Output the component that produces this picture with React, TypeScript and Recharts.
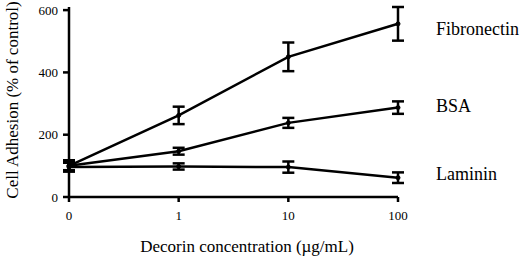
import React from 'react';
import { LineChart, Line, XAxis, YAxis, ErrorBar, LabelList, Label } from 'recharts';

const levels = ['0', '1', '10', '100'];
const fibronectin = [100, 262, 450, 556];
const fibronectinErr = [18, 28, 46, 54];
const bsa = [100, 147, 238, 287];
const bsaErr = [14, 11, 16, 20];
const laminin = [96, 98, 96, 62];
const lamininErr = [14, 10, 18, 17];

const FONT = '"Liberation Serif", "Times New Roman", serif';
const INK = '#000';

const data = levels.map((lvl, i) => ({
  x: i,
  fibronectin: fibronectin[i],
  fibronectinErr: fibronectinErr[i],
  bsa: bsa[i],
  bsaErr: bsaErr[i],
  laminin: laminin[i],
  lamininErr: lamininErr[i],
}));

const endLabel = (name: string, dy: number) => (props: any) => {
  const { x, y, index } = props;
  if (index !== levels.length - 1) return null;
  return (
    <text x={x + 38} y={y + dy} fontFamily={FONT} fontSize={18} fill={INK} dominantBaseline="middle">
      {name}
    </text>
  );
};

const dot = { r: 2, fill: INK, stroke: INK, strokeWidth: 1 };

export default function App() {
  return (
    <div style={{ position: 'absolute', left: 0, top: 0, width: 520, height: 260, background: '#fff' }}>
      <LineChart width={520} height={260} data={data} margin={{ top: 7, right: 122, bottom: 33, left: 29 }}>
        <XAxis
          dataKey="x"
          type="number"
          domain={[0, 3]}
          ticks={[0, 1, 2, 3]}
          tickFormatter={(v: number) => levels[v]}
          height={30}
          tickSize={5}
          tickMargin={9}
          stroke={INK}
          strokeWidth={2.5}
          tick={{ fontFamily: FONT, fontSize: 13, fill: INK }}
        >
          <Label
            content={() => (
              <text x={247} y={252} textAnchor="middle" fontFamily={FONT} fontSize={17} fill={INK}>
                Decorin concentration (µg/mL)
              </text>
            )}
          />
        </XAxis>
        <YAxis
          type="number"
          domain={[0, 600]}
          ticks={[0, 200, 400, 600]}
          width={40}
          tickSize={6}
          tickMargin={5}
          stroke={INK}
          strokeWidth={2.5}
          tick={{ fontFamily: FONT, fontSize: 13, fill: INK }}
        >
          <Label
            content={() => (
              <text
                x={18}
                y={100}
                transform="rotate(-90 18 100)"
                textAnchor="middle"
                fontFamily={FONT}
                fontSize={17}
                fill={INK}
              >
                Cell Adhesion (% of control)
              </text>
            )}
          />
        </YAxis>
        <Line dataKey="fibronectin" stroke={INK} strokeWidth={2.5} dot={dot} isAnimationActive={false}>
          <ErrorBar dataKey="fibronectinErr" direction="y" width={6} stroke={INK} strokeWidth={2.5} />
          <LabelList dataKey="fibronectin" content={endLabel('Fibronectin', 7)} />
        </Line>
        <Line dataKey="bsa" stroke={INK} strokeWidth={2.5} dot={dot} isAnimationActive={false}>
          <ErrorBar dataKey="bsaErr" direction="y" width={6} stroke={INK} strokeWidth={2.5} />
          <LabelList dataKey="bsa" content={endLabel('BSA', 0)} />
        </Line>
        <Line dataKey="laminin" stroke={INK} strokeWidth={2.5} dot={dot} isAnimationActive={false}>
          <ErrorBar dataKey="lamininErr" direction="y" width={6} stroke={INK} strokeWidth={2.5} />
          <LabelList dataKey="laminin" content={endLabel('Laminin', -2)} />
        </Line>
      </LineChart>
    </div>
  );
}
